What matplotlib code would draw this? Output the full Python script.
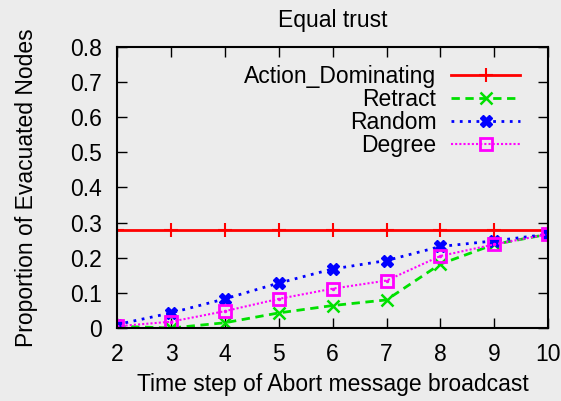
import matplotlib.pyplot as plt

steps = [2, 3, 4, 5, 6, 7, 8, 9, 10]
action_dominating = [0.28] * 9
retract = [0.005, 0.0, 0.015, 0.043, 0.064, 0.08, 0.182, 0.238, 0.267]
random_ = [0.01, 0.043, 0.083, 0.128, 0.168, 0.192, 0.232, 0.248, 0.267]
degree = [0.005, 0.018, 0.048, 0.083, 0.112, 0.135, 0.205, 0.238, 0.267]

plt.rcParams['font.family'] = ['Liberation Sans', 'DejaVu Sans']
bg = '#ececec'
fs = 16.5

fig = plt.figure(figsize=(5.61, 4.01), dpi=100, facecolor=bg)
ax = fig.add_axes([0.209, 0.182, 0.768, 0.701], facecolor=bg)

ax.plot(steps, action_dominating, color='red', lw=2, marker='+', ms=10, mew=1.5,
        label='Action_Dominating')
ax.plot(steps, retract, color='#00e000', lw=2, ls=(0, (3, 2)), marker='x', ms=8, mew=1.8,
        label='Retract')
ax.plot(steps, random_, color='blue', lw=2, ls=(0, (1, 2)), marker='X', ms=9,
        label='Random')
ax.plot(steps, degree, color='#ff00ff', lw=1.5, ls=(0, (1, 1)), marker='s', ms=9,
        mfc='none', mew=2, label='Degree')
ax.plot(steps, degree, color='#ff00ff', lw=0, marker='.', ms=3)

ax.set_xlim(2, 10)
ax.set_ylim(0, 0.8)
ax.set_xticks(steps)
ax.set_yticks([0, 0.1, 0.2, 0.3, 0.4, 0.5, 0.6, 0.7, 0.8])
ax.set_yticklabels(['0', '0.1', '0.2', '0.3', '0.4', '0.5', '0.6', '0.7', '0.8'])
ax.tick_params(direction='in', top=True, right=True, length=7, width=1,
               labelsize=fs, pad=11)
for s in ax.spines.values():
    s.set_linewidth(1.5)

ax.set_title('Equal trust', fontsize=fs, pad=14)
ax.set_xlabel('Time step of Abort message broadcast', fontsize=fs)
ax.set_ylabel('Proportion of Evacuated Nodes', fontsize=fs)
ax.xaxis.set_label_coords(0.5, -0.16)
ax.yaxis.set_label_coords(-0.185, 0.5)

leg = ax.legend(loc='upper right', frameon=False, markerfirst=False, fontsize=fs,
                handlelength=3.0, handletextpad=0.65, labelspacing=0.0,
                borderaxespad=0, borderpad=0, bbox_to_anchor=(0.935, 0.935))
for t in leg.get_texts():
    t.set_ha('right')

fig.savefig('out.png', dpi=100, facecolor=bg)
